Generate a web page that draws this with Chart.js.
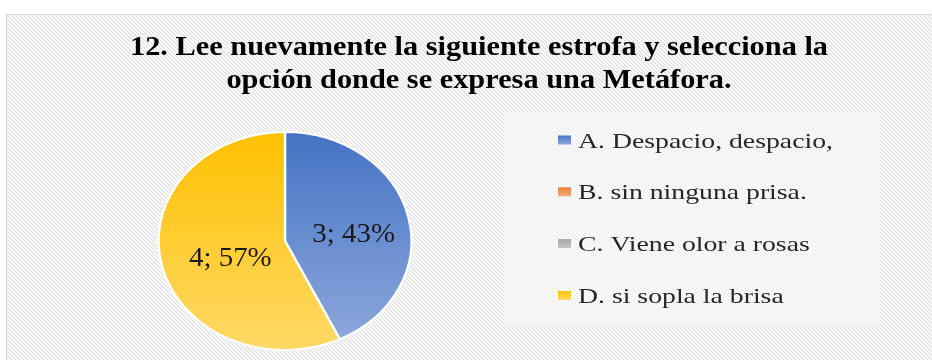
<!DOCTYPE html>
<html>
<head>
<meta charset="utf-8">
<script src="https://cdn.jsdelivr.net/npm/chart.js@4.4.1/dist/chart.umd.min.js"></script>
<style>
  html, body { margin: 0; padding: 0; background: #fff; }
  #wrap { width: 932px; height: 360px; position: relative; }
</style>
</head>
<body>
<div id="wrap"><canvas id="pie"></canvas></div>
<script>
const titleLines = [
  '12. Lee nuevamente la siguiente estrofa y selecciona la',
  'opción donde se expresa una Metáfora.'
];
const categories = [
  'A. Despacio, despacio,',
  'B. sin ninguna prisa.',
  'C. Viene olor a rosas',
  'D. si sopla la brisa'
];
const answers = [3, 0, 0, 4];
const percents = [43, 0, 0, 57];

// top / bottom colours of each slice gradient
const colorTop = ['#4472c4', '#ed7d31', '#a5a5a5', '#ffc000'];
const colorBottom = ['#8faadc', '#f4b183', '#c9c9c9', '#ffd966'];

const XSTRETCH = 1.16;   // the pie is drawn as a wide ellipse

// diagonal hatch used for the plot background
function makeHatch() {
  const c = document.createElement('canvas');
  c.width = 4; c.height = 4;
  const g = c.getContext('2d');
  g.fillStyle = '#fbfbfb';
  g.fillRect(0, 0, 4, 4);
  for (let y = 0; y < 4; y++) {
    for (let x = 0; x < 4; x++) {
      const d = ((x - y) % 4 + 4) % 4;
      if (d === 0) { g.fillStyle = '#e0e0e0'; g.fillRect(x, y, 1, 1); }
      if (d === 1) { g.fillStyle = '#ececec'; g.fillRect(x, y, 1, 1); }
    }
  }
  return c;
}

function sliceGradient(ctx) {
  const chart = ctx.chart;
  const area = chart.chartArea;
  const i = ctx.dataIndex;
  if (!area) return colorTop[i];
  const g = chart.ctx.createLinearGradient(0, area.top, 0, area.bottom);
  g.addColorStop(0, colorTop[i]);
  g.addColorStop(1, colorBottom[i]);
  return g;
}

const backdrop = {
  id: 'backdrop',
  beforeDraw(chart) {
    const ctx = chart.ctx;
    ctx.save();
    ctx.fillStyle = '#ffffff';
    ctx.fillRect(0, 0, chart.width, chart.height);
    ctx.fillStyle = ctx.createPattern(makeHatch(), 'repeat');
    ctx.fillRect(7, 15, chart.width, chart.height);
    ctx.strokeStyle = '#d9d9d9';
    ctx.lineWidth = 1;
    ctx.strokeRect(6.5, 14.5, chart.width + 10, chart.height + 10);

    // legend panel
    ctx.fillStyle = 'rgba(255,255,255,0.4)';
    ctx.fillRect(504, 112, 376, 213);

    // title
    ctx.fillStyle = '#000';
    ctx.font = 'bold 27px "Liberation Serif", "Times New Roman", serif';
    ctx.textAlign = 'center';
    ctx.textBaseline = 'alphabetic';
    const sx = 698 / ctx.measureText(titleLines[0]).width;
    titleLines.forEach((t, k) => {
      ctx.save();
      ctx.translate(479, 55 + k * 33);
      ctx.scale(sx, 1);
      ctx.fillText(t, 0, 0);
      ctx.restore();
    });

    // legend entries
    ctx.font = '21px "Liberation Serif", "Times New Roman", serif';
    ctx.textAlign = 'left';
    const lx = 255 / ctx.measureText(categories[0]).width;
    categories.forEach((name, i) => {
      const cy = 140 + i * 51.8;
      const g = ctx.createLinearGradient(0, cy - 5, 0, cy + 5);
      g.addColorStop(0, colorTop[i]);
      g.addColorStop(1, colorBottom[i]);
      ctx.fillStyle = g;
      ctx.fillRect(558, cy - 4.5, 13, 9);
      ctx.fillStyle = '#262626';
      ctx.save();
      ctx.translate(578, cy + 7.5);
      ctx.scale(lx, 1);
      ctx.fillText(name, 0, 0);
      ctx.restore();
    });
    ctx.restore();
  }
};

const ellipse = {
  id: 'ellipse',
  beforeDatasetsDraw(chart) {
    const arc = chart.getDatasetMeta(0).data[0];
    const ctx = chart.ctx;
    ctx.save();
    ctx.translate(arc.x, arc.y);
    ctx.scale(XSTRETCH, 1);
    ctx.translate(-arc.x, -arc.y);
  },
  afterDatasetsDraw(chart) {
    const ctx = chart.ctx;
    ctx.restore();

    // value labels "n; p%", nudged a little right and down from the slice centre
    const arcs = chart.getDatasetMeta(0).data;
    ctx.save();
    ctx.font = '27px "Liberation Serif", "Times New Roman", serif';
    ctx.fillStyle = '#1a1a1a';
    ctx.textAlign = 'center';
    ctx.textBaseline = 'middle';
    arcs.forEach((a, i) => {
      if (!answers[i]) return;
      const p = a.tooltipPosition();
      const x = a.x + (p.x - a.x) * XSTRETCH + 7;
      ctx.save();
      ctx.translate(x, p.y + 6);
      ctx.scale(1.07, 1);
      ctx.fillText(answers[i] + '; ' + percents[i] + '%', 0, 0);
      ctx.restore();
    });
    ctx.restore();
  }
};

new Chart(document.getElementById('pie'), {
  type: 'pie',
  data: {
    labels: categories,
    datasets: [{
      data: answers,
      backgroundColor: sliceGradient,
      borderColor: '#ffffff',
      borderWidth: 2
    }]
  },
  options: {
    responsive: true,
    maintainAspectRatio: false,
    animation: false,
    layout: {
      padding: { left: 175, right: 537, top: 131, bottom: 9 }
    },
    plugins: {
      legend: { display: false },
      title: { display: false },
      tooltip: { enabled: false }
    }
  },
  plugins: [backdrop, ellipse]
});
</script>
</body>
</html>
